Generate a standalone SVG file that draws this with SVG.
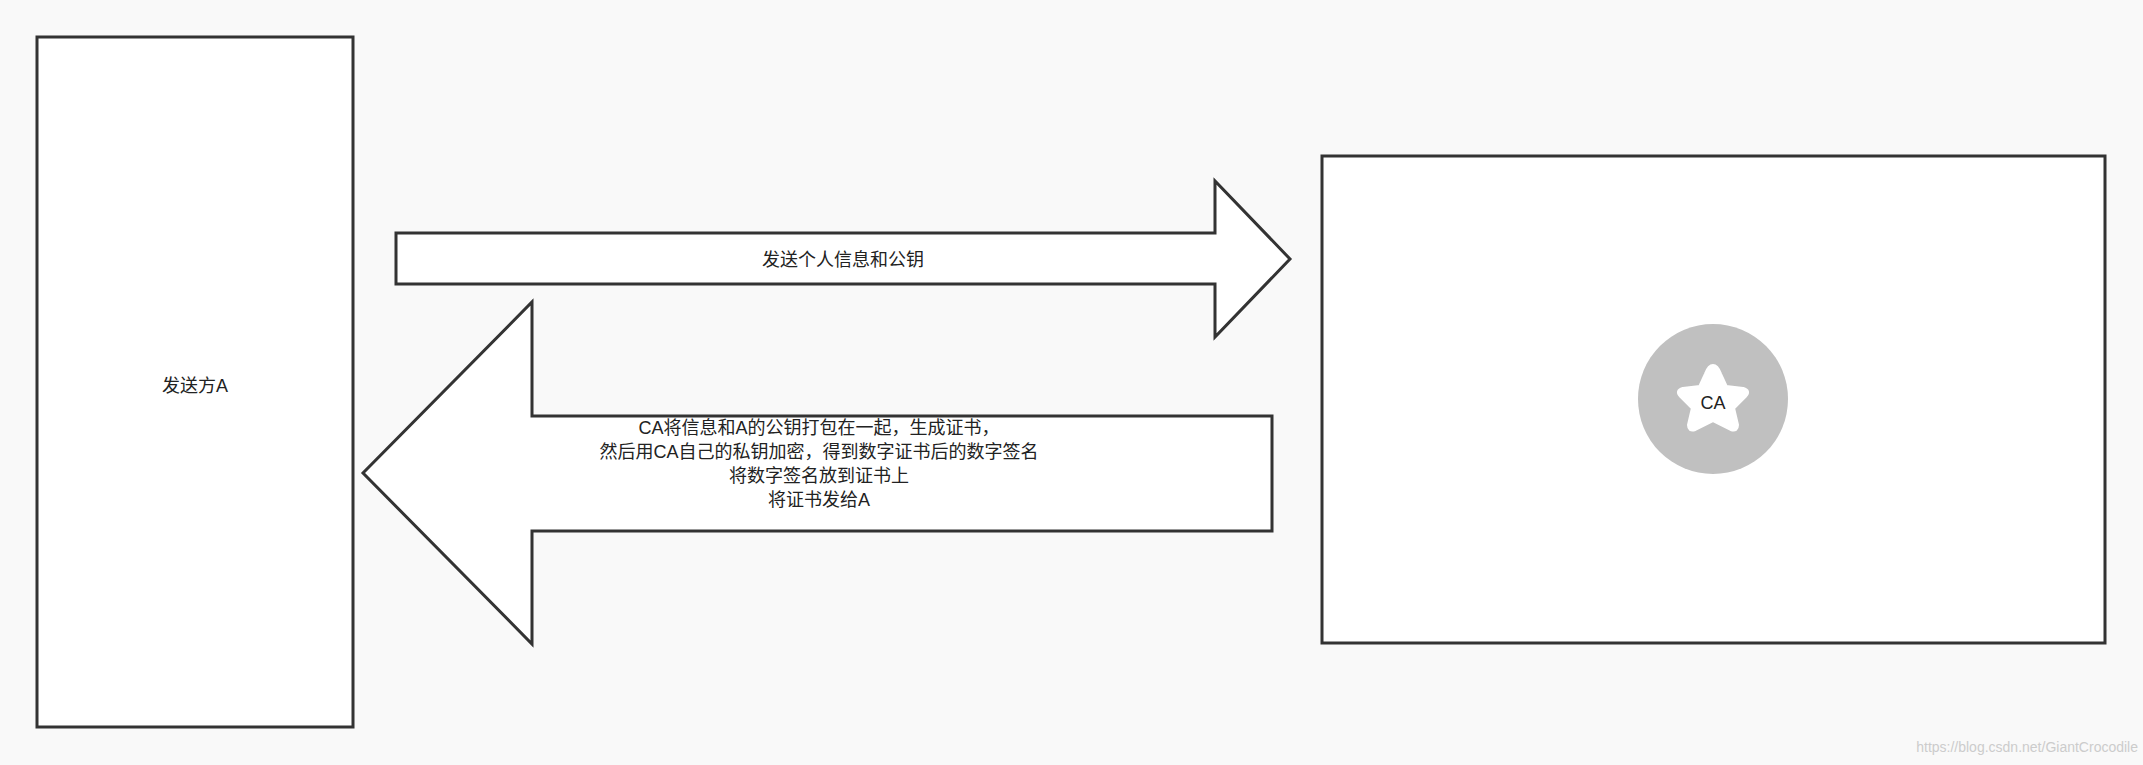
<svg xmlns="http://www.w3.org/2000/svg" width="2143" height="765" viewBox="0 0 2143 765">
<style>
.s{fill:#fff;stroke:#333;stroke-width:3}
.t{font-family:"Liberation Sans","Noto Sans CJK SC",sans-serif;font-size:18px;fill:#222;text-anchor:middle}
</style>
<rect width="2143" height="765" fill="#f9f9f9"/>
<g id="sender"><rect class="s" x="37" y="37" width="316" height="690"/><text class="t" x="195" y="392">发送方A</text></g>
<g id="ca"><rect class="s" x="1322" y="156" width="783" height="487"/>
<circle cx="1713" cy="399" r="75" fill="#c0c0c0"/>
<path d="M1713,366 Q1717,366 1720,374 L1726,387 L1743,389 Q1750,391 1745,396 L1733,408 L1737,425 Q1737,431 1731,429 L1713,420 L1695,429 Q1689,431 1689,425 L1693,408 L1681,396 Q1676,391 1683,389 L1700,387 L1706,374 Q1709,366 1713,366Z" fill="#fff" stroke="#fff" stroke-linejoin="round" stroke-width="4"/>
<text class="t" x="1713" y="409">CA</text></g>
<g id="connectors">
<g id="send"><path class="s" d="M396,233 H1215 V181 L1290,259 L1215,337 V284 H396Z"/><text class="t" x="843" y="266">发送个人信息和公钥</text></g>
<g id="reply"><path class="s" d="M1272,416 H532 V302 L363,473 L532,644 V531 H1272Z"/>
<text class="t" x="819" y="434">CA将信息和A的公钥打包在一起，生成证书，</text>
<text class="t" x="819" y="458">然后用CA自己的私钥加密，得到数字证书后的数字签名</text>
<text class="t" x="819" y="482">将数字签名放到证书上</text>
<text class="t" x="819" y="506">将证书发给A</text></g>
</g>
<text x="2138" y="752" font-family="Liberation Sans,sans-serif" font-size="14" fill="#ccc" text-anchor="end">https://blog.csdn.net/GiantCrocodile</text>
</svg>
